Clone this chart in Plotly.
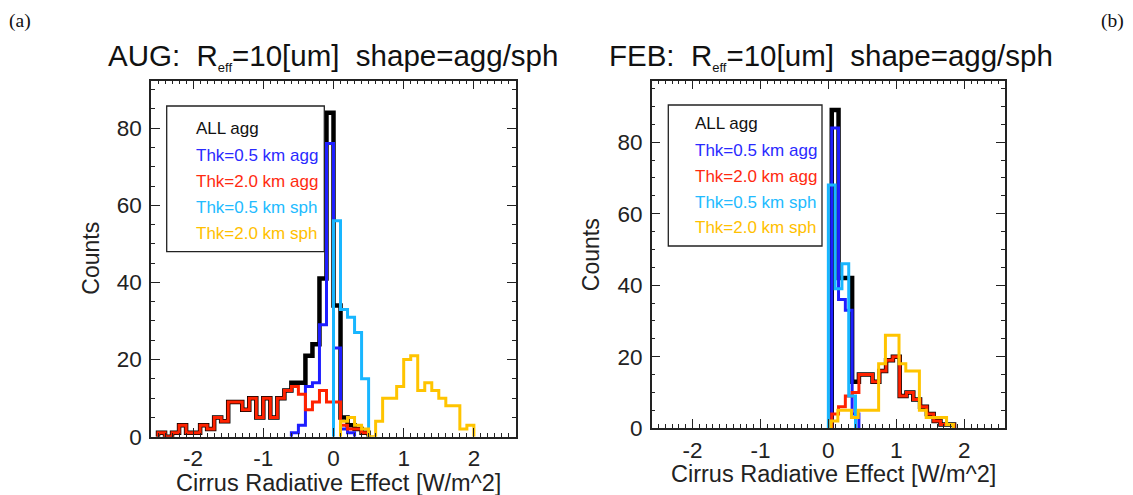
import plotly.graph_objects as go

BIN_WIDTH = 0.1

# ---------------- data: panel (a) AUG ----------------
aug_start = {"all_agg": -2.5, "thk05_agg": -0.6, "thk20_agg": -2.5, "thk05_sph": 0.0, "thk20_sph": 0.1}
aug_all_agg = [1, 0, 1, 3, 1, 1, 3, 2, 5, 4, 9, 9, 7, 10, 5, 10, 5, 10, 12,
               14, 14, 21, 24, 41, 84, 34, 5, 3, 2, 1]
aug_thk05_agg = [1, 3, 13, 14, 29, 76, 23, 2, 1]
aug_thk20_agg = [1, 0, 1, 3, 1, 1, 3, 2, 5, 4, 9, 9, 7, 10, 5, 10, 5, 10, 12,
                 13, 11, 7, 9, 12, 9, 9, 3, 2, 2, 1]
aug_thk05_sph = [56, 33, 31, 27, 15]
aug_thk20_sph = [4, 5, 3, 2, 0, 4, 10, 10, 13, 20, 21, 12, 14, 12, 10, 8, 8, 2, 3]

# ---------------- data: panel (b) FEB ----------------
feb_start = {"all_agg": 0.05, "thk05_agg": 0.05, "thk20_agg": 0.05, "thk05_sph": 0.0, "thk20_sph": 0.04}
feb_all_agg = [89, 42, 42, 13, 15, 15, 13, 16, 19, 20, 9, 10, 8, 6, 4, 2, 1, 1]
feb_thk05_agg = [84, 36, 33, 4]
feb_thk20_agg = [4, 6, 9, 10, 15, 15, 13, 16, 19, 20, 9, 10, 8, 6, 4, 2, 1, 1]
feb_thk05_sph = [68, 39, 46, 9]
feb_thk20_sph = [2, 5, 5, 3, 5, 5, 5, 18, 26, 26, 18, 16, 16, 5, 3, 3, 3, 1]

series_names = ["ALL agg", "Thk=0.5 km agg", "Thk=2.0 km agg", "Thk=0.5 km sph", "Thk=2.0 km sph"]
series_keys = ["all_agg", "thk05_agg", "thk20_agg", "thk05_sph", "thk20_sph"]
series_colors = ["#000000", "#1e1eff", "#ff2200", "#18b6ff", "#ffc400"]
legend_colors = ["#111111", "#2a2aff", "#ff2a10", "#22bbff", "#ffc000"]
series_widths = [4.5, 3, 3, 3, 3]

x_ticks = [-2, -1, 0, 1, 2]
x_ticktext = ["-2", "-1", "0", "1", "2"]
y_ticks = [0, 20, 40, 60, 80]

TITLE_TMPL = ("{m}:\u00a0\u00a0R<sub><span style='font-size:13px'>eff</span></sub>"
              "=10[um]\u00a0\u00a0shape=agg/sph")

# page geometry: the browser body keeps its default 8px margin
WIN_W, WIN_H = 1133, 495
OFF = 8
W, H = WIN_W - OFF, WIN_H - OFF


def px(x):
    return (x - OFF) / W


def py(y):
    return 1 - (y - OFF) / H


panels = [
    {"title": TITLE_TMPL.format(m="AUG"),
     "start": aug_start,
     "data": [aug_all_agg, aug_thk05_agg, aug_thk20_agg, aug_thk05_sph, aug_thk20_sph],
     "box": (151, 516, 80.7, 436.7), "yrange": [0, 92.3], "title_x": 333},
    {"title": TITLE_TMPL.format(m="FEB"),
     "start": feb_start,
     "data": [feb_all_agg, feb_thk05_agg, feb_thk20_agg, feb_thk05_sph, feb_thk20_sph],
     "box": (651.7, 1005, 80.7, 428.2), "yrange": [0, 97.2], "title_x": 831},
]


def step_xy(start, counts):
    edges = [start + BIN_WIDTH * i for i in range(len(counts) + 1)]
    xs = [edges[0]] + edges[:-1] + [edges[-1]]
    ys = [0] + list(counts) + [0]
    return xs, ys


FONT = "Liberation Sans, Arial, Helvetica, sans-serif"
AXC = "#222222"

fig = go.Figure()
annotations = []
shapes = []

for p_i, p in enumerate(panels):
    sfx = "" if p_i == 0 else str(p_i + 1)
    for k, key in enumerate(series_keys):
        xs, ys = step_xy(p["start"][key], p["data"][k])
        fig.add_trace(go.Scatter(
            x=xs, y=ys, mode="lines", name=series_names[k],
            line=dict(color=series_colors[k], width=series_widths[k], shape="hv"),
            xaxis="x" + sfx, yaxis="y" + sfx, showlegend=False, hoverinfo="skip"))

    bx0, bx1, by0, by1 = p["box"]
    xa = dict(domain=[px(bx0), px(bx1)], range=[-2.6, 2.6], anchor="y" + sfx, automargin=False,
              tickmode="array", tickvals=x_ticks, ticktext=x_ticktext,
              ticks="inside", ticklen=9, tickwidth=1.3, tickcolor=AXC,
              mirror="ticks", showline=True, linecolor=AXC, linewidth=1.5,
              showgrid=False, zeroline=False,
              minor=dict(tick0=0, dtick=0.1, ticks="inside", ticklen=4, tickwidth=1, tickcolor=AXC, showgrid=False),
              tickfont=dict(family=FONT, size=22.5, color=AXC), ticklabelstandoff=1)
    ya = dict(domain=[py(by1), py(by0)], range=p["yrange"], anchor="x" + sfx, automargin=False,
              tickmode="array", tickvals=y_ticks,
              ticks="inside", ticklen=9, tickwidth=1.3, tickcolor=AXC,
              mirror="ticks", showline=True, linecolor=AXC, linewidth=1.5,
              showgrid=False, zeroline=False,
              minor=dict(tick0=0, dtick=5, ticks="inside", ticklen=4, tickwidth=1, tickcolor=AXC, showgrid=False),
              tickfont=dict(family=FONT, size=22.5, color=AXC), ticklabelstandoff=3)
    fig.layout["xaxis" + sfx] = xa
    fig.layout["yaxis" + sfx] = ya

    yc = (by0 + by1) / 2

    annotations.append(dict(text=p["title"], x=px(p["title_x"]), y=py(57),
                            xref="paper", yref="paper", xanchor="center", yanchor="middle",
                            showarrow=False, font=dict(family=FONT, size=29.5, color="#111")))
    annotations.append(dict(text="Cirrus Radiative Effect [W/m^2]", x=px((bx0 + bx1) / 2 + 5),
                            y=py(by1 + 46), xref="paper", yref="paper",
                            xanchor="center", yanchor="middle", showarrow=False,
                            font=dict(family=FONT, size=23.5, color=AXC)))
    annotations.append(dict(text="Counts", x=px(bx0 - 60), y=py(yc), textangle=-90,
                            xref="paper", yref="paper", xanchor="center", yanchor="middle",
                            showarrow=False, font=dict(family=FONT, size=23, color=AXC)))

legend_boxes = [
    {"x0": 166.7, "x1": 324.3, "y0": 106, "y1": 251.7, "tx": 194, "ty": [128, 155, 181, 207, 233]},
    {"x0": 668.3, "x1": 822, "y0": 105, "y1": 246, "tx": 692.7, "ty": [124, 150, 176, 202, 227]},
]
for lb in legend_boxes:
    shapes.append(dict(type="rect", xref="paper", yref="paper",
                       x0=px(lb["x0"]), x1=px(lb["x1"]), y0=py(lb["y1"]), y1=py(lb["y0"]),
                       line=dict(color="#222", width=1.3), fillcolor="white", layer="above"))
    for k in range(len(series_names)):
        annotations.append(dict(text=series_names[k], x=px(lb["tx"]), y=py(lb["ty"][k]),
                                xref="paper", yref="paper", xanchor="left", yanchor="middle",
                                showarrow=False, font=dict(family=FONT, size=17, color=legend_colors[k])))

annotations.append(dict(text="(a)", x=px(7), y=py(21), xref="paper", yref="paper",
                        xanchor="left", yanchor="middle", showarrow=False,
                        font=dict(family="Liberation Serif, Times New Roman, serif", size=19.5, color="#111")))
annotations.append(dict(text="(b)", x=px(1126), y=py(21), xref="paper", yref="paper",
                        xanchor="right", yanchor="middle", showarrow=False,
                        font=dict(family="Liberation Serif, Times New Roman, serif", size=19.5, color="#111")))

fig.update_layout(template="none", width=W, height=H, margin=dict(l=0, r=0, t=0, b=0, pad=0),
                  paper_bgcolor="white", plot_bgcolor="white", showlegend=False,
                  annotations=annotations, shapes=shapes)

fig.write_html("out.html", config={"displayModeBar": False})
